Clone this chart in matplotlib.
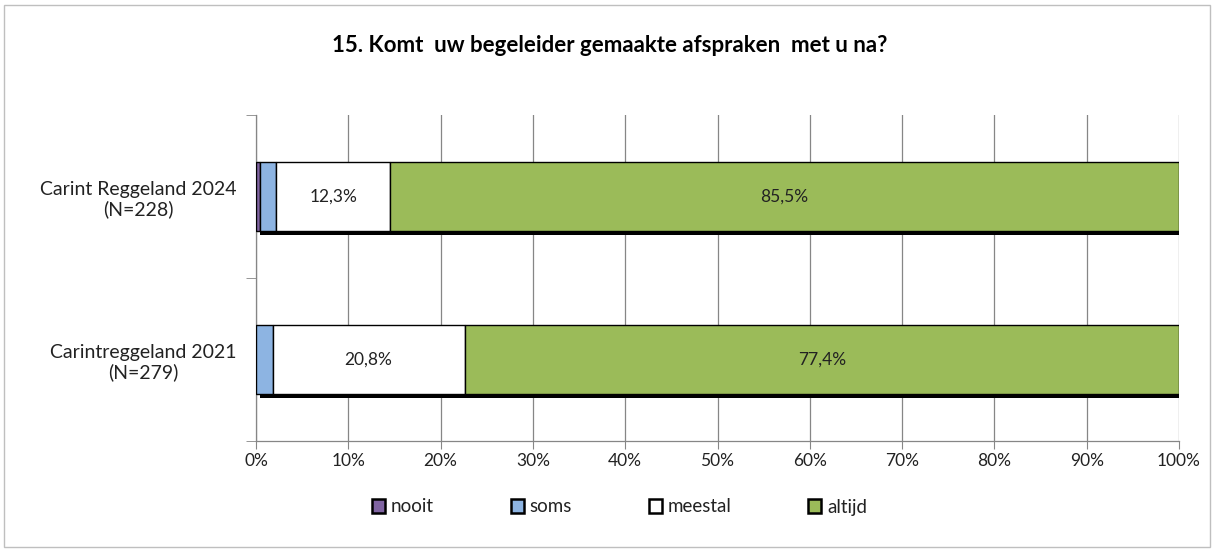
"""Gestapelde horizontale staven: 15. Komt uw begeleider gemaakte afspraken met u na?"""

import matplotlib

matplotlib.use("Agg")
import matplotlib.pyplot as plt
from matplotlib.patches import Rectangle

plt.rcParams["font.family"] = ["Lato", "DejaVu Sans"]

title = "15. Komt  uw begeleider gemaakte afspraken  met u na?"
groups = ["Carintreggeland 2021\n(N=279)", "Carint Reggeland 2024\n(N=228)"]
series = ["nooit", "soms", "meestal", "altijd"]
nooit = [0.0, 0.4]
soms = [1.8, 1.8]
meestal = [20.8, 12.3]
altijd = [77.4, 85.5]
show_label = [False, False, True, True]
colors = ["#8064A2", "#8DB4E2", "#FFFFFF", "#9BBB59"]

fig = plt.figure(figsize=(12.15, 5.51), dpi=100)
ax = fig.add_axes([256 / 1215, 1 - 441 / 551, 923 / 1215, 326 / 551])

ypos = list(range(len(groups)))
h = 0.42

# schaduw achter de hele staaf
for y in ypos:
    ax.barh(y - 0.025, 100, left=0.45, height=h, color="black", zorder=2, linewidth=0)

left = [0.0] * len(groups)
for name, vals, col, lab in zip(series, [nooit, soms, meestal, altijd], colors, show_label):
    ax.barh(ypos, vals, left=left, height=h, color=col, edgecolor="black",
            linewidth=1.0, label=name, zorder=3)
    if lab:
        for y, v, l in zip(ypos, vals, left):
            ax.text(l + v / 2, y, f"{v:.1f}%".replace(".", ","), ha="center", va="center",
                    fontsize=12.5, color="#222222", zorder=4)
    left = [a + b for a, b in zip(left, vals)]

ax.set_xlim(0, 100)
ax.set_ylim(-0.5, 1.5)
ax.set_xticks(range(0, 101, 10))
ax.set_xticklabels([f"{t}%" for t in range(0, 101, 10)], fontsize=12.5, color="#222222")
ax.set_yticks(ypos)
ax.set_yticklabels(groups, fontsize=14, color="#222222", linespacing=1.15)
for t in ax.get_yticklabels():
    t.set_multialignment("center")
ax.tick_params(axis="y", length=0, pad=14)
ax.set_yticks([-0.5, 0.5, 1.5], minor=True)
ax.tick_params(axis="y", which="minor", length=7, color="#868686", direction="out")
ax.tick_params(axis="x", length=6, color="#868686", direction="out", pad=3)
ax.grid(axis="x", color="#868686", linewidth=0.9, zorder=0)
ax.set_axisbelow(True)
for s in ["top", "right"]:
    ax.spines[s].set_visible(False)
for s in ["left", "bottom"]:
    ax.spines[s].set_color("#868686")
    ax.spines[s].set_linewidth(0.9)

fig.text(0.502, 1 - 45 / 551, title, ha="center", va="center", fontsize=16,
         fontweight="bold", color="black")

handles, labels = ax.get_legend_handles_labels()
leg = fig.legend(handles, labels, loc="center", bbox_to_anchor=(0.510, 1 - 507 / 551),
                 ncol=4, frameon=False, fontsize=13.5, handlelength=0.7, handleheight=0.7,
                 handletextpad=0.3, columnspacing=4.1)
for t in leg.get_texts():
    t.set_color("#222222")
for p in leg.get_patches():
    p.set_linewidth(1.8)

fig.patches.append(Rectangle((4 / 1215, 4 / 551), 1 - 9 / 1215, 1 - 9 / 551,
                             transform=fig.transFigure, fill=False, edgecolor="#BFBFBF",
                             linewidth=1.0))

fig.savefig("out.png", dpi=100, facecolor="white")
